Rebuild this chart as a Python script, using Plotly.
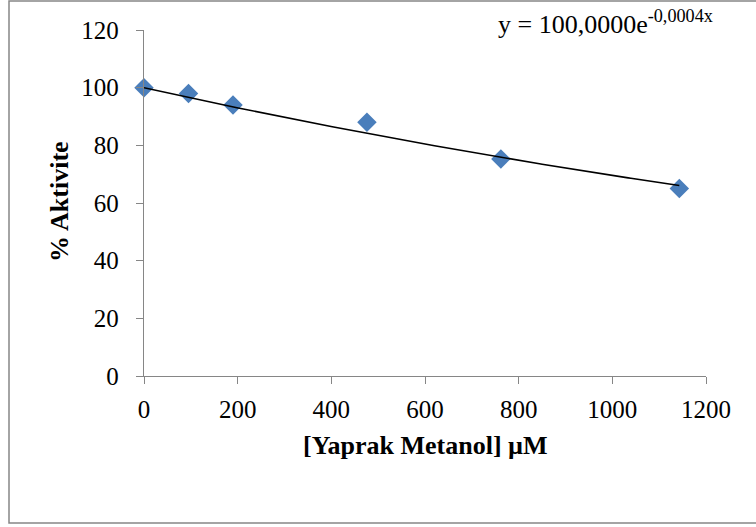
import numpy as np
import plotly.graph_objects as go

# Data
conc_uM = [0, 95, 190, 476, 762, 1143]
activity = [100, 98, 94, 88, 75.3, 65]
x_ticks = [0, 200, 400, 600, 800, 1000, 1200]
y_ticks = [0, 20, 40, 60, 80, 100, 120]
equation = "y = 100,0000e<sup>-0,0004x</sup>"

# Exponential trendline with intercept fixed at 100 (least squares on log scale)
xa = np.array(conc_uM, dtype=float)
ya = np.array(activity, dtype=float)
b = np.sum(xa * np.log(ya / 100.0)) / np.sum(xa ** 2)
xt = np.linspace(min(conc_uM), max(conc_uM), 200)
yt = 100.0 * np.exp(b * xt)

W, H = 756, 527
L, R, T, B = 144, 50, 30, 151
pw, ph = W - L - R, H - T - B
SERIF = "Times New Roman, Liberation Serif, serif"

def px2paper_x(px):
    return (px - L) / pw

def px2paper_y(py):
    return (H - B - py) / ph

fig = go.Figure()
fig.add_trace(go.Scatter(x=xa, y=ya, mode="markers",
                         marker=dict(symbol="diamond", size=15, color="#4A7EBB",
                                     line=dict(width=0)),
                         showlegend=False, cliponaxis=False))
fig.add_trace(go.Scatter(x=xt, y=yt, mode="lines",
                         line=dict(color="black", width=1.6),
                         showlegend=False))

axis_common = dict(showline=True, linecolor="#868686", linewidth=1.3,
                   ticks="outside", ticklen=7, tickcolor="#868686", tickwidth=1.3,
                   showgrid=False, zeroline=False,
                   tickfont=dict(family=SERIF, size=25, color="black"))

fig.update_xaxes(range=[0, 1200], tickvals=x_ticks, ticklabelstandoff=4, **axis_common)
fig.update_yaxes(range=[0, 120], tickvals=y_ticks, ticklabelstandoff=12, **axis_common)

fig.add_annotation(xref="paper", yref="paper", x=0.5, y=px2paper_y(445),
                   text="<b>[Yaprak Metanol] µM</b>", showarrow=False,
                   xanchor="center", yanchor="middle",
                   font=dict(family=SERIF, size=26, color="black"))
fig.add_annotation(xref="paper", yref="paper", x=px2paper_x(59), y=px2paper_y(202),
                   text="<b>% Aktivite</b>", showarrow=False, textangle=-90,
                   xanchor="center", yanchor="middle",
                   font=dict(family=SERIF, size=26, color="black"))
fig.add_annotation(xref="paper", yref="paper", x=px2paper_x(496), y=px2paper_y(23),
                   text=equation, showarrow=False,
                   xanchor="left", yanchor="middle",
                   font=dict(family=SERIF, size=26, color="black"))

# outer chart frame
fig.add_shape(type="rect", xref="paper", yref="paper",
              x0=px2paper_x(9), x1=px2paper_x(770),
              y0=px2paper_y(523), y1=px2paper_y(1),
              line=dict(color="#868686", width=1.5), layer="below")

fig.update_layout(width=W, height=H, margin=dict(l=L, r=R, t=T, b=B),
                  paper_bgcolor="white", plot_bgcolor="white")

fig.write_html("out.html")
